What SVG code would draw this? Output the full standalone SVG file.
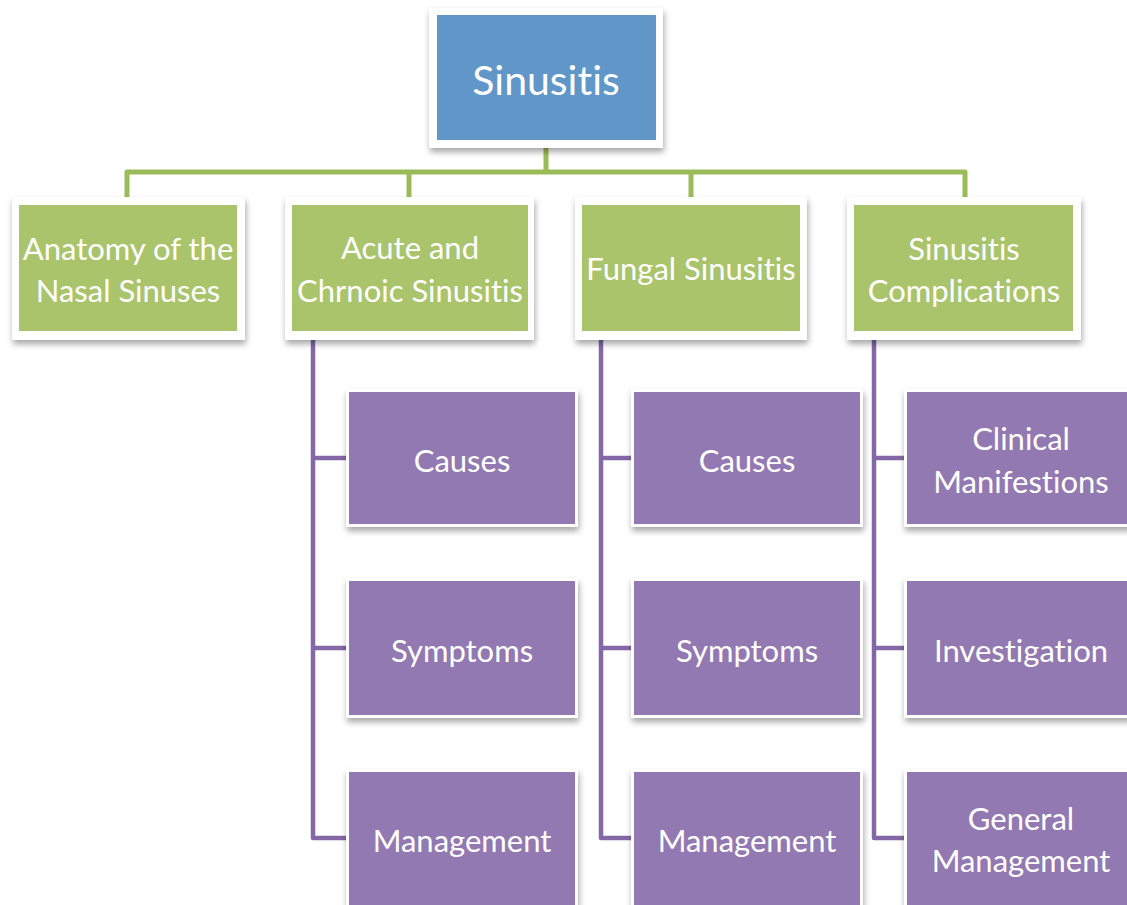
<svg xmlns="http://www.w3.org/2000/svg" width="1127" height="905" viewBox="0 0 1127 905">
<defs>
<filter id="sh" x="-10%" y="-10%" width="125%" height="130%">
<feDropShadow dx="1" dy="4" stdDeviation="3" flood-color="#000" flood-opacity="0.35"/>
</filter>
<style>
.frame{fill:#ffffff;filter:url(#sh)}
.blue{fill:#6196c8}
.green{fill:#aac46c}
.purple{fill:#9379b1}
.t{font-family:Lato,"Open Sans","Liberation Sans",sans-serif;fill:#ffffff;text-anchor:middle;font-size:31px;font-variant-ligatures:none;font-feature-settings:"liga" 0,"clig" 0}
.big{font-size:41px}
.gl{fill:none;stroke:#9bbb59;stroke-width:5;stroke-linejoin:round}
.pl{fill:none;stroke:#8467a6;stroke-width:4.5;stroke-linejoin:round}
</style>
</defs>
<rect width="1127" height="905" fill="#ffffff"/>
<g id="connectors">
<path class="gl" d="M546,148 V172 M127,197 V172 H965 V197 M409,172 V197 M691,172 V197"/>
<path class="pl" d="M313,338 V838 H349 M313,458 H349 M313,648 H349"/>
<path class="pl" d="M601,338 V838 H634 M601,458 H634 M601,648 H634"/>
<path class="pl" d="M874,338 V838 H907 M874,458 H907 M874,648 H907"/>
</g>
<g id="sinusitis">
<rect class="frame" x="429" y="8" width="234" height="140"/>
<rect class="blue" x="437" y="15" width="219" height="125"/>
<text class="t big" x="546" y="95">Sinusitis</text>
</g>
<g id="anatomy">
<rect class="frame" x="12" y="197" width="233" height="143"/>
<rect class="green" x="19" y="205" width="218" height="126"/>
<text class="t" x="128" y="260">Anatomy of the</text>
<text class="t" x="128" y="302">Nasal Sinuses</text>
</g>
<g id="acute">
<rect class="frame" x="285" y="197" width="249" height="143"/>
<rect class="green" x="292" y="205" width="236" height="126"/>
<text class="t" x="410" y="259">Acute and</text>
<text class="t" x="410" y="302">Chrnoic Sinusitis</text>
</g>
<g id="fungal">
<rect class="frame" x="575" y="197" width="232" height="143"/>
<rect class="green" x="582" y="205" width="218" height="126"/>
<text class="t" x="691" y="280">Fungal Sinusitis</text>
</g>
<g id="complications">
<rect class="frame" x="847" y="197" width="234" height="143"/>
<rect class="green" x="854" y="205" width="219" height="126"/>
<text class="t" x="964" y="260">Sinusitis</text>
<text class="t" x="964" y="302">Complications</text>
</g>
<g id="acute-causes">
<rect class="frame" x="346" y="389" width="232" height="138"/>
<rect class="purple" x="349" y="392" width="226" height="132"/>
<text class="t" x="462" y="472">Causes</text>
</g>
<g id="acute-symptoms">
<rect class="frame" x="346" y="578" width="232" height="140"/>
<rect class="purple" x="349" y="581" width="226" height="134"/>
<text class="t" x="462" y="662">Symptoms</text>
</g>
<g id="acute-management">
<rect class="frame" x="346" y="769" width="232" height="150"/>
<rect class="purple" x="349" y="772" width="226" height="145"/>
<text class="t" x="462" y="852">Management</text>
</g>
<g id="fungal-causes">
<rect class="frame" x="631" y="389" width="232" height="138"/>
<rect class="purple" x="634" y="392" width="226" height="132"/>
<text class="t" x="747" y="472">Causes</text>
</g>
<g id="fungal-symptoms">
<rect class="frame" x="631" y="578" width="232" height="140"/>
<rect class="purple" x="634" y="581" width="226" height="134"/>
<text class="t" x="747" y="662">Symptoms</text>
</g>
<g id="fungal-management">
<rect class="frame" x="631" y="769" width="232" height="150"/>
<rect class="purple" x="634" y="772" width="226" height="145"/>
<text class="t" x="747" y="852">Management</text>
</g>
<g id="comp-clinical">
<rect class="frame" x="904" y="389" width="240" height="138"/>
<rect class="purple" x="907" y="392" width="234" height="132"/>
<text class="t" x="1021" y="450">Clinical</text>
<text class="t" x="1021" y="493">Manifestions</text>
</g>
<g id="comp-investigation">
<rect class="frame" x="904" y="578" width="240" height="140"/>
<rect class="purple" x="907" y="581" width="234" height="134"/>
<text class="t" x="1021" y="662">Investigation</text>
</g>
<g id="comp-management">
<rect class="frame" x="904" y="769" width="240" height="150"/>
<rect class="purple" x="907" y="772" width="234" height="145"/>
<text class="t" x="1021" y="830">General</text>
<text class="t" x="1021" y="872">Management</text>
</g>
</svg>
